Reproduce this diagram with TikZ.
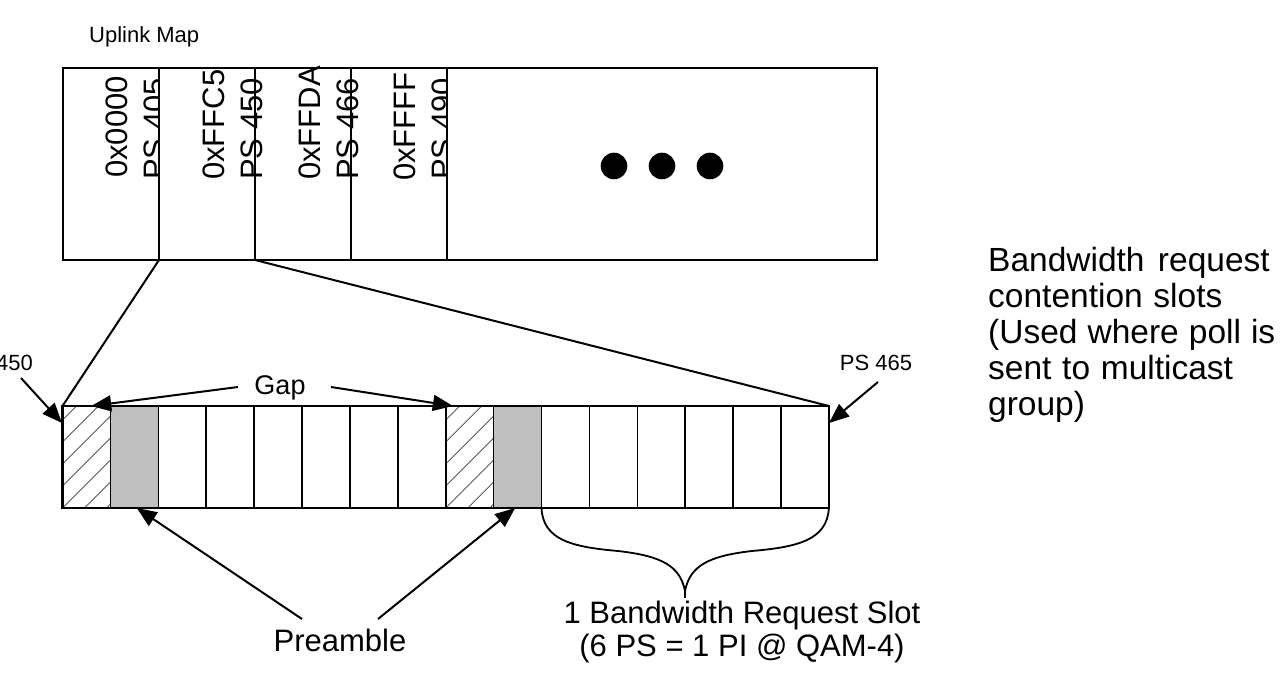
\documentclass[tikz,border=0pt]{standalone}
\usepackage{fontspec}
\setmainfont{Liberation Sans}
\usetikzlibrary{arrows.meta}
\begin{document}
\begin{tikzpicture}[x=1pt,y=-1pt,
  box/.style={draw=black,line width=2.2pt},
  cellline/.style={draw=black,line width=1.6pt},
  conn/.style={line width=2pt},
  arr/.style={line width=2pt,-{Triangle[length=20pt,width=16pt]}},
  big/.style={inner sep=0pt,font=\fontsize{31}{36}\selectfont},
  para/.style={inner sep=0pt,font=\fontsize{33.5}{36}\selectfont},
  gapfont/.style={inner sep=0pt,font=\fontsize{27}{32}\selectfont},
  small/.style={inner sep=0pt,font=\fontsize{22}{26}\selectfont},
  vtxt/.style={inner sep=0pt,rotate=90,anchor=base west,font=\fontsize{31}{36}\selectfont},
  hatch/.style={draw=gray!70!black,line width=0.9pt},
]
\useasboundingbox (0,0) rectangle (1280,679);
\clip (0,0) rectangle (1280,679);

% title
\node[small,anchor=base west] (title) at (89,43) {Uplink Map};

% top map box
\coordinate (tl) at (63,68);
\coordinate (br) at (877,260);
\draw[box] (tl) rectangle (br);
\foreach \x/\n in {159/d1,255/d2,351/d3,447/d4}{
  \coordinate (\n t) at (\x,68);
  \coordinate (\n) at (\x,260);
  \draw[cellline] (\n t) -- (\n);
}
% column texts
\begin{scope}
  \clip (63,68) rectangle (159,260);
  \node[vtxt] (c1a) at (127,178) {0x0000};
  \node[vtxt] (c1b) at (165,180) {PS 405};
\end{scope}
\node[vtxt] (c2a) at (224,180) {0xFFC5};
\node[vtxt] (c2b) at (262,180) {PS 450};
\node[vtxt] (c3a) at (320,180) {0xFFDA};
\node[vtxt] (c3b) at (358,180) {PS 466};
\begin{scope}
  \clip (351,68) rectangle (447,260);
  \node[vtxt] (c4a) at (415,181) {0xFFFF};
  \node[vtxt] (c4b) at (453,180) {PS 490};
\end{scope}
% ellipsis dots
\foreach \x/\n in {614/e1,662/e2,710/e3}{
  \fill (\x,166) circle (13.3);
  \coordinate (\n) at (\x,166);
}

% bottom row of slots
\def\L{62.5}\def\W{47.9}\def\T{406}\def\B{508}
\coordinate (rowtl) at (\L,\T);
\coordinate (rowtr) at (\L+16*\W,\T);
\coordinate (rowbl) at (\L,\B);
\coordinate (rowbr) at (\L+16*\W,\B);
% gray preamble cells
\foreach \i in {1,9}{
  \fill[gray!50] (\L+\i*\W,\T) rectangle (\L+\i*\W+\W,\B);
}
% hatched gap cells
\foreach \i in {0,8}{
  \begin{scope}
    \clip (\L+\i*\W,\T) rectangle (\L+\i*\W+\W,\B);
    \foreach \k in {-6,...,3}{
      \draw[hatch] (\L+\i*\W+\k*22,\B) -- ++(110,-110);
    }
  \end{scope}
}
\foreach \i in {1,...,15}{
  \draw[cellline] (\L+\i*\W,\T) -- (\L+\i*\W,\B);
}
\draw[box] (rowtl) rectangle (rowbr);

% expansion lines
\draw[conn] (d1) -- (rowtl);
\draw[conn] (d2) -- (rowtr);

% PS labels
\node[small,anchor=base east] (ps450) at (33,370) {PS 450};
\node[small,anchor=base] (ps465) at (876,370) {PS 465};
\coordinate (ps450s) at (21,378);
\coordinate (ps450e) at (62,423);
\coordinate (ps465s) at (878,382);
\coordinate (ps465e) at (829,423);
\draw[arr] (ps450s) -- (ps450e);
\draw[arr] (ps465s) -- (ps465e);

% Gap
\node[gapfont,anchor=base] (gap) at (280,394) {Gap};
\coordinate (gapl) at (238,387);
\coordinate (gapr) at (331,387);
\coordinate (gap1) at (\L+0.6*\W,\T);
\coordinate (gap2) at (\L+8.15*\W,\T);
\draw[arr] (gapl) -- (gap1);
\draw[arr] (gapr) -- (gap2);

% Preamble
\node[big,anchor=base] (pre) at (340,651) {Preamble};
\coordinate (prel) at (302,619);
\coordinate (prer) at (378,619);
\coordinate (pre1) at (\L+1.55*\W,\B);
\coordinate (pre2) at (\L+9.45*\W,\B);
\draw[arr] (prel) -- (pre1);
\draw[arr] (prer) -- (pre2);

% brace under slots 10..15
\coordinate (brs) at (\L+10*\W,\B);
\coordinate (bre) at (\L+16*\W,\B);
\coordinate (brtip) at (685,591);
\coordinate (brstem) at (685,598);
\draw[line width=1.8pt,line join=round]
  (brs) .. controls (543,540) and (572,547) .. (618,551)
        .. controls (662,556) and (680,566) .. (brtip)
        .. controls (690,566) and (708,556) .. (752,551)
        .. controls (798,547) and (827,540) .. (bre);
\draw[line width=1.8pt] (brtip) -- (brstem);

% slot description
\node[big,anchor=base] (slot1) at (742,623) {1 Bandwidth Request Slot};
\node[big,anchor=base] (slot2) at (742,656) {(6 PS = 1 PI @ QAM-4)};

% right paragraph
\node[para,anchor=base west] (bw1) at (988,271) {Bandwidth\hspace{0.4em}request};
\node[para,anchor=base west] (bw2) at (988,307) {contention\hspace{0.32em}slots};
\node[para,anchor=base west] (bw3) at (988,343) {(Used\hspace{0.3em}where\hspace{0.3em}poll\hspace{0.3em}is};
\node[para,anchor=base west] (bw4) at (988,379) {sent\hspace{0.32em}to\hspace{0.32em}multicast};
\node[para,anchor=base west] (bw5) at (988,415) {group)};
\end{tikzpicture}
\end{document}
